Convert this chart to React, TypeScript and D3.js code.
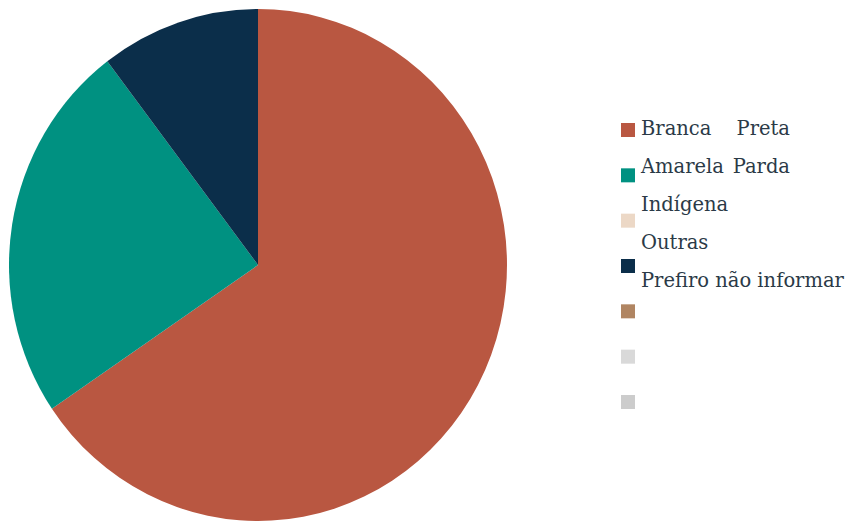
import React from "react";
import * as d3 from "d3";

const categories = ["Branca", "Preta", "Amarela", "Parda", "Indígena", "Outras", "Prefiro não informar"];
const values = [19, 7, 0, 3, 0, 0, 0];
const colors = ["#b95741", "#009181", "#ecd8c6", "#0b2e4a", "#b08562", "#d9d9d9", "#cccccc"];
// how the legend texts are grouped onto lines (as in the reference)
const legendLines = [[0, 1], [2, 3], [4], [5], [6]];

export default function App() {
  const W = 850, H = 523;
  const cx = 258, cy = 265, ry = 256, rx = 249;
  const pie = d3.pie<number>().sort(null).value((d) => d);
  const arcs = pie(values);
  const arc = d3.arc<d3.PieArcDatum<number>>().innerRadius(0).outerRadius(ry);

  const markerY = d3.scaleLinear().domain([0, 6]).range([123, 395]);
  const lineY = d3.scaleLinear().domain([0, 4]).range([135, 287]);
  const textX0 = 641, textX1 = 790;
  const font = "'DejaVu Serif', Georgia, serif";

  return (
    <svg width={W} height={H} style={{ position: "absolute", left: 0, top: 0, background: "#fff" }}>
      <g transform={`translate(${cx},${cy}) scale(${rx / ry},1)`}>
        {arcs.map((a, i) =>
          a.value > 0 ? <path key={i} d={arc(a) || ""} fill={colors[i]} /> : null
        )}
      </g>
      {categories.map((c, i) => (
        <rect key={c} x={621} y={markerY(i)} width={14} height={14} fill={colors[i]} />
      ))}
      {legendLines.map((ln, j) => (
        <g key={j} fontFamily={font} fontSize={19.5} fill="#2b3a47">
          <text x={textX0} y={lineY(j)}>{categories[ln[0]]}</text>
          {ln.length > 1 && (
            <text x={textX1} y={lineY(j)} textAnchor="end">{categories[ln[1]]}</text>
          )}
        </g>
      ))}
    </svg>
  );
}
